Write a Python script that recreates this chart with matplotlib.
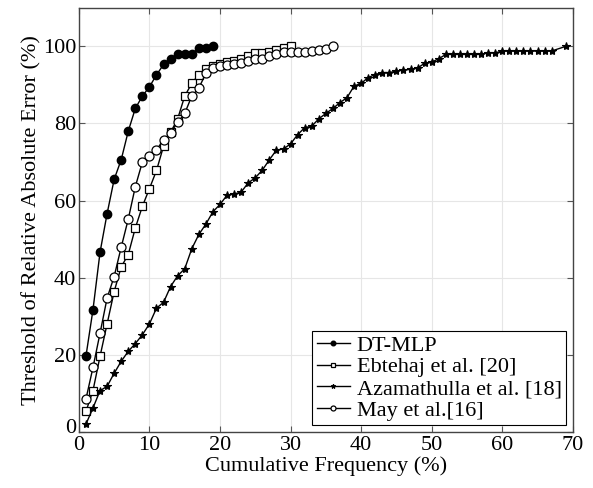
import matplotlib
matplotlib.use('Agg')
import matplotlib.pyplot as plt
import matplotlib.transforms as mtransforms

plt.rcParams['font.family'] = ['Liberation Serif', 'DejaVu Serif']
plt.rcParams['mathtext.fontset'] = 'stix'

# DT-MLP
dt_x = list(range(1, 20))
dt_y = [19.6, 31.7, 46.6, 56.6, 65.5, 70.6, 78.0, 83.9, 87.1, 89.5,
        92.6, 95.3, 96.8, 97.9, 97.9, 97.9, 99.6, 99.6, 100.0]

# Ebtehaj et al. [20]
eb_x = list(range(1, 31))
eb_y = [5.3, 10.7, 19.6, 28.0, 36.4, 42.8, 46.0, 52.9, 58.5, 63.1,
        67.8, 74.1, 77.7, 81.2, 87.1, 90.4, 92.7, 94.0, 94.9, 95.4,
        95.9, 96.3, 96.8, 97.6, 98.2, 98.2, 98.5, 99.0, 99.5, 100.0]

# Azamathulla et al. [18]
az_x = list(range(1, 68)) + [69]
az_y = [2.0, 6.2, 10.7, 11.8, 15.2, 18.3, 20.9, 22.9, 25.2, 28.0,
        32.1, 33.6, 37.7, 40.5, 42.3, 47.5, 51.2, 53.9, 57.1, 59.0,
        61.4, 61.7, 62.2, 64.6, 65.9, 67.9, 70.6, 73.1, 73.4, 74.7,
        77.1, 78.9, 79.3, 81.2, 82.6, 83.9, 85.4, 86.7, 89.7, 90.4,
        91.9, 92.7, 93.2, 93.2, 93.6, 93.9, 94.0, 94.4, 95.6, 95.9,
        96.8, 97.9, 97.9, 97.9, 97.9, 97.9, 97.9, 98.4, 98.3, 98.8,
        98.8, 98.8, 98.8, 98.8, 98.8, 98.8, 98.8, 100.0]

# May et al. [16]
may_x = list(range(1, 37))
may_y = [8.5, 16.7, 25.6, 34.7, 40.3, 47.9, 55.2, 63.6, 70.0, 71.5,
         73.2, 75.7, 77.6, 80.3, 82.6, 87.1, 89.2, 93.0, 94.5, 95.0,
         95.2, 95.4, 95.7, 96.2, 96.6, 96.8, 97.4, 98.0, 98.5, 98.6,
         98.6, 98.6, 98.8, 99.0, 99.3, 100.0]

fig = plt.figure(figsize=(5.93, 4.88), dpi=100)
ax = fig.add_axes([0.133, 0.115, 0.833, 0.869])

ax.plot(dt_x, dt_y, '-o', color='black', mfc='black', ms=6, lw=1.0, label='DT-MLP')
ax.plot(eb_x, eb_y, '-s', color='black', mfc='white', ms=5.5, mew=0.9, lw=1.0,
        label='Ebtehaj et al. [20]')
ax.plot(az_x, az_y, '-*', color='black', ms=6, mew=0.8, lw=1.0,
        label='Azamathulla et al. [18]')
ax.plot(may_x, may_y, '-o', color='black', mfc='white', ms=6.5, mew=0.9, lw=1.0,
        label='May et al.[16]')

ax.set_xlim(0, 70)
ax.set_ylim(0, 110)
ax.set_xticks(range(0, 71, 10))
ax.set_yticks(range(0, 101, 20))
ax.grid(True, color='#e6e6e6', lw=0.8)
ax.set_axisbelow(True)
ax.tick_params(direction='in', top=True, right=True, labelsize=16, length=4,
               color='#555555')
ax.tick_params(axis='x', pad=3)
ax.tick_params(axis='y', pad=2)
for s in ax.spines.values():
    s.set_color('#444444')
    s.set_linewidth(1.0)

# nudge the y "0" up a little so it doesn't sit on the x "0"
ylab0 = ax.get_yticklabels()[0]
ylab0.set_transform(ylab0.get_transform() +
                    mtransforms.ScaledTranslation(0, 4 / 72, fig.dpi_scale_trans))

ax.set_xlabel('Cumulative Frequency (%)', fontsize=16, labelpad=1)
ax.set_ylabel('Threshold of Relative Absolute Error (%)', fontsize=16, labelpad=1)

leg = ax.legend(loc='lower right', fontsize=16, markerscale=0.55, handlelength=1.5,
                fancybox=False, framealpha=1, edgecolor='black',
                borderpad=0.2, labelspacing=0.05, handletextpad=0.3,
                borderaxespad=0.3)
leg.get_frame().set_linewidth(0.8)

fig.savefig('out.png', dpi=100)
